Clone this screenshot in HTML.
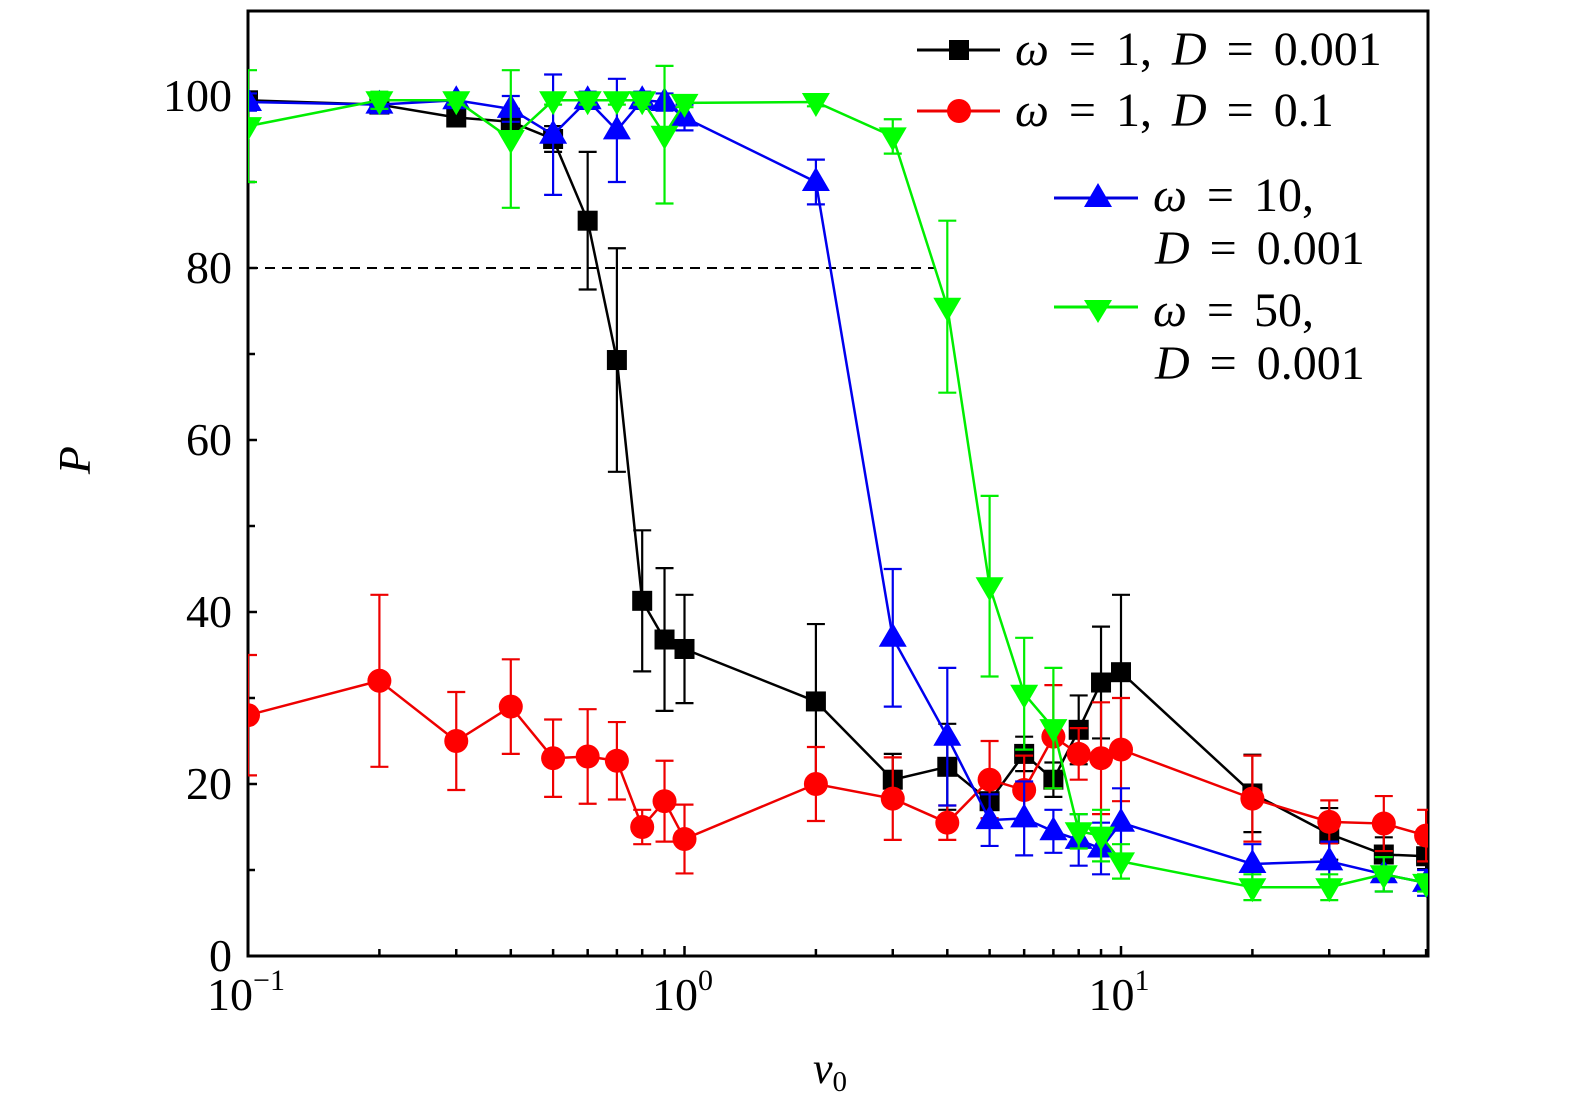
<!DOCTYPE html>
<html><head><meta charset="utf-8"><style>
html,body{margin:0;padding:0;background:#fff}
svg text{font-family:"Liberation Serif",serif;fill:#000}
</style></head><body>
<svg width="1575" height="1112" viewBox="0 0 1575 1112">
<defs><clipPath id="pc"><rect x="248" y="11" width="1180" height="945"/></clipPath></defs>
<rect x="248" y="11" width="1180" height="945" fill="none" stroke="#000" stroke-width="3"/>
<g id="ticks"></g>
<line x1="248" y1="268" x2="935" y2="268" stroke="#000" stroke-width="2" stroke-dasharray="10,7"/>
<g id="series" clip-path="url(#pc)"></g>
<text x="100" y="470" font-size="46" font-style="italic" text-anchor="middle" transform="rotate(-90 90 470)">P</text>
<text x="830" y="1083" font-size="44" font-style="italic" text-anchor="middle">v<tspan font-size="29" dy="8" font-style="normal">0</tspan></text>
<g style="word-spacing:8px">
<g><line x1="917" y1="50" x2="1000" y2="50" stroke="#000" stroke-width="3"/><rect x="949" y="40" width="20" height="20" fill="#000"/><text x="1015" y="65" font-size="48"><tspan font-style="italic">ω</tspan> = 1,  <tspan font-style="italic">D</tspan> = 0.001</text></g>
<g><line x1="917" y1="111" x2="1000" y2="111" stroke="#e00" stroke-width="3"/><circle cx="959" cy="111" r="12" fill="#f00"/><text x="1015" y="126" font-size="48"><tspan font-style="italic">ω</tspan> = 1,  <tspan font-style="italic">D</tspan> = 0.1</text></g>
<g><line x1="1054" y1="198" x2="1138" y2="198" stroke="#00d" stroke-width="3"/><polygon points="1098,183 1084,207 1112,207" fill="#00f"/><text x="1153" y="211" font-size="48"><tspan font-style="italic">ω</tspan> = 10,</text><text x="1155" y="264" font-size="48"><tspan font-style="italic">D</tspan> = 0.001</text></g>
<g><line x1="1054" y1="307" x2="1138" y2="307" stroke="#0e0" stroke-width="3"/><polygon points="1084,300 1112,300 1098,323" fill="#0f0"/><text x="1153" y="326" font-size="48"><tspan font-style="italic">ω</tspan> = 50,</text><text x="1155" y="379" font-size="48"><tspan font-style="italic">D</tspan> = 0.001</text></g>
</g>
</svg>
<script>
const xs=[0.1,0.2,0.3,0.4,0.5,0.6,0.7,0.8,0.9,1,2,3,4,5,6,7,8,9,10,20,30,40,50];
const blackY=[99.5,99,97.5,97,95,85.5,69.3,41.3,36.8,35.7,29.6,20.5,22,18,23.5,20.5,26.3,31.8,33,18.9,14.2,11.8,11.6];
const blackE=[1,0.5,1,1.5,1.5,8,13,8.2,8.3,6.3,9,3,5,2,2,2,4,6.5,9,4.5,3,2,1.5];
const redY=[28,32,25,29,23,23.2,22.7,15,18,13.6,20,18.3,15.5,20.5,19.3,25.5,23.5,23,24,18.3,15.6,15.4,14];
const redE=[7,10,5.7,5.5,4.5,5.5,4.5,2,4.7,4,4.3,4.8,2,4.5,4,6,3,6.5,6,5,2.5,3.2,3];
const blueY=[99.3,99,99.5,98.5,95.5,99.5,96,99.5,99.3,97.5,90,37,25.5,15.8,16,14.5,13.5,12.5,15.5,10.7,11,9.5,8.5];
const blueE=[1,1,0.5,1.5,7,1,6,1,1,1.5,2.6,8,8,3,4.3,2.5,3,3,4,2.3,2.3,2,1.5];
const greenY=[96.5,99.5,99.5,95,99.5,99.5,99.5,99.5,95.5,99.2,99.3,95.3,75.5,43,30.5,26.5,14.5,14,11,8,8,9.5,8.5];
const greenE=[6.5,1,0.5,8,0.5,0.5,0.5,0.5,8,0.5,0.5,2,10,10.5,6.5,7,2,3,2,1.5,1.5,2,1];
const yTicks=[0,20,40,60,80,100];
const xTickExp=[-1,0,1];
const NS='http://www.w3.org/2000/svg';
const X0=248, DEC=436.5, Y0=956, YS=8.6;
function sx(v){return X0+Math.log10(v/0.1)*DEC;}
function sy(v){return Y0-v*YS;}
function mk(tag,at,parent){const e=document.createElementNS(NS,tag);for(const k in at)e.setAttribute(k,at[k]);parent.appendChild(e);return e;}
const tg=document.getElementById('ticks');
for(let v=10;v<=100;v+=10){const t=mk('line',{x1:X0,x2:X0+(v%20===0?9:7),y1:sy(v),y2:sy(v),stroke:'#000','stroke-width':2.5},tg);

}
yTicks.forEach(v=>{const t=mk('text',{x:X0-16,y:sy(v)+15,'font-size':46,'text-anchor':'end'},tg);t.textContent=v;

});
for(let d=-1;d<=1;d++)for(let m=1;m<10;m++){const v=m*Math.pow(10,d);if(v>50)break;const x=sx(v);if(x<X0+1)continue;
const t=mk('line',{x1:x,x2:x,y1:Y0,y2:Y0-(m===1?10:7),stroke:'#000','stroke-width':2.5},tg);

}
xTickExp.forEach(e=>{const x=sx(Math.pow(10,e));const t=mk('text',{x:x-2,y:1010,'font-size':46,'text-anchor':'middle'},tg);
t.innerHTML='10<tspan font-size="30" dy="-20">'+(e<0?'−':'')+Math.abs(e)+'</tspan>';

});
const sg=document.getElementById('series');
const series=[['black',blackY,blackE,'#000','sq'],['red',redY,redE,'#e00','ci'],['blue',blueY,blueE,'#00e','tu'],['green',greenY,greenE,'#0e0','td']];
series.forEach(([nm,ys,es,col,sh])=>{
const g=mk('g',{},sg);


const pl=mk('polyline',{points:xs.map((x,i)=>sx(x)+','+sy(ys[i])).join(' '),fill:'none',stroke:col,'stroke-width':2.5},g);


xs.forEach((x,i)=>{const cx=sx(x),cy=sy(ys[i]),t=sy(ys[i]+es[i]),b=sy(ys[i]-es[i]);
const eb=mk('path',{d:`M${cx},${t}V${b}M${cx-9},${t}H${cx+9}M${cx-9},${b}H${cx+9}`,stroke:col,'stroke-width':2.2,fill:'none'},g);


const f=col==='#000'?'#000':col==='#e00'?'#f00':col==='#00e'?'#00f':'#0f0';
let m;
if(sh==='sq')m=mk('rect',{x:cx-10,y:cy-10,width:20,height:20,fill:f},g);
else if(sh==='ci')m=mk('circle',{cx:cx,cy:cy,r:12,fill:f},g);
else if(sh==='tu')m=mk('polygon',{points:`${cx},${cy-15} ${cx-14},${cy+9} ${cx+14},${cy+9}`,fill:f},g);
else m=mk('polygon',{points:`${cx-14},${cy-9} ${cx+14},${cy-9} ${cx},${cy+15}`,fill:f},g);

});
});
</script>
</body></html>
